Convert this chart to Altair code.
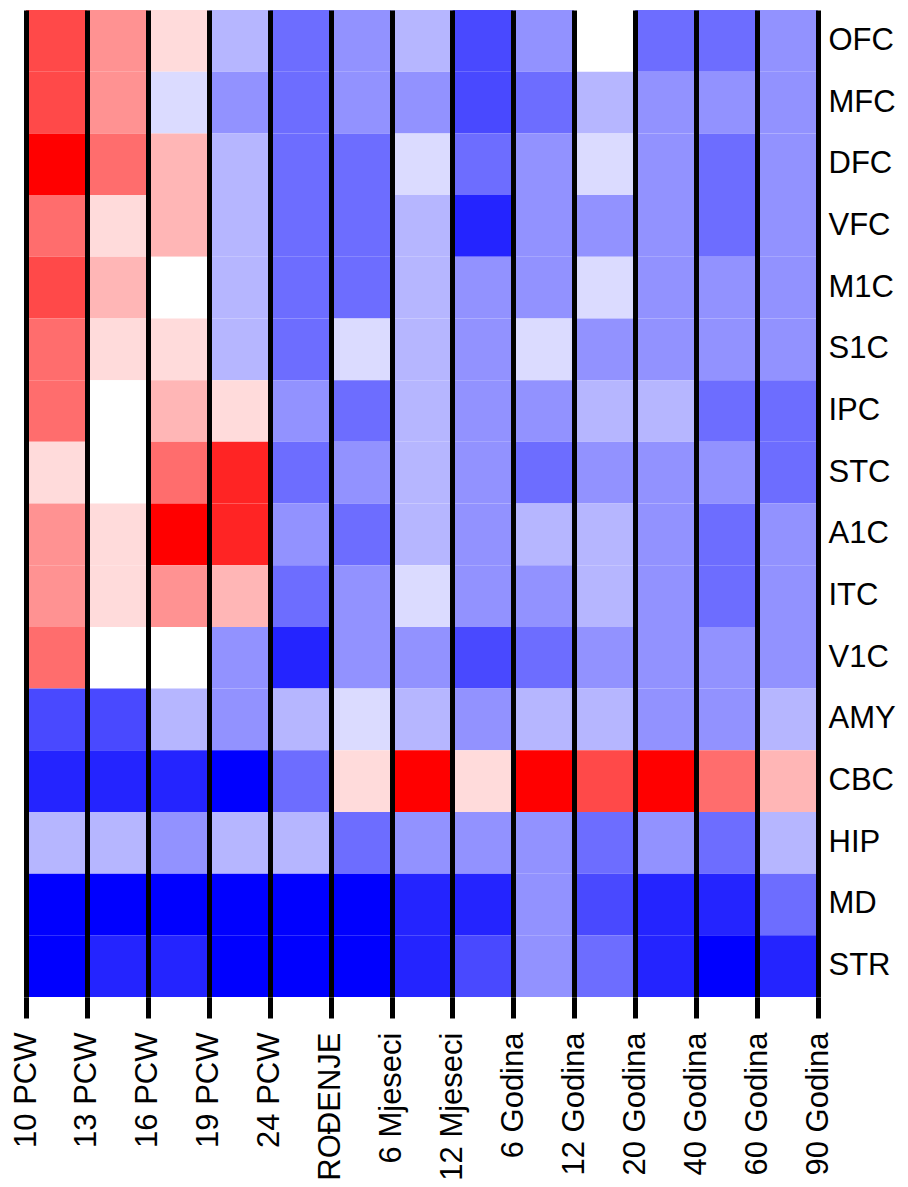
import json
import altair as alt
import pandas as pd

time_labels = ["10 PCW", "13 PCW", "16 PCW", "19 PCW", "24 PCW", "ROĐENJE",
               "6 Mjeseci", "12 Mjeseci", "6 Godina", "12 Godina", "20 Godina",
               "40 Godina", "60 Godina", "90 Godina"]

regions = ["OFC", "MFC", "DFC", "VFC", "M1C", "S1C", "IPC", "STC", "A1C",
           "ITC", "V1C", "AMY", "CBC", "HIP", "MD", "STR"]

OFC = [5, 3, 1, -2, -4, -3, -2, -5, -3, 0, -4, -4, -3]
MFC = [5, 3, -1, -3, -4, -3, -3, -5, -4, -2, -3, -3, -3]
DFC = [7, 4, 2, -2, -4, -4, -1, -4, -3, -1, -3, -4, -3]
VFC = [4, 1, 2, -2, -4, -4, -2, -6, -3, -3, -3, -4, -3]
M1C = [5, 2, 0, -2, -4, -4, -2, -3, -3, -1, -3, -3, -3]
S1C = [4, 1, 1, -2, -4, -1, -2, -3, -1, -3, -3, -3, -3]
IPC = [4, 0, 2, 1, -3, -4, -2, -3, -3, -2, -2, -4, -4]
STC = [1, 0, 4, 6, -4, -3, -2, -3, -4, -3, -3, -3, -4]
A1C = [3, 1, 7, 6, -3, -4, -2, -3, -2, -2, -3, -4, -3]
ITC = [3, 1, 3, 2, -4, -3, -1, -3, -3, -2, -3, -4, -3]
V1C = [4, 0, 0, -3, -6, -3, -3, -5, -4, -3, -3, -3, -3]
AMY = [-5, -5, -2, -3, -2, -1, -2, -3, -2, -2, -3, -3, -2]
CBC = [-6, -6, -6, -7, -4, 1, 7, 1, 7, 5, 7, 4, 2]
HIP = [-2, -2, -3, -2, -2, -4, -3, -3, -3, -4, -3, -4, -2]
MD = [-7, -7, -7, -7, -7, -7, -6, -6, -3, -5, -6, -6, -4]
STR = [-7, -6, -6, -7, -7, -7, -6, -5, -3, -4, -6, -7, -6]

matrix = [OFC, MFC, DFC, VFC, M1C, S1C, IPC, STC, A1C, ITC, V1C, AMY, CBC, HIP, MD, STR]

rows = []
for r, vals in zip(regions, matrix):
    for i, v in enumerate(vals):
        rows.append({"region": r, "start": i, "end": i + 1, "value": v})
df = pd.DataFrame(rows)

label_expr = json.dumps(time_labels) + "[datum.value]"
FONT = "Liberation Sans"

chart = alt.Chart(df).mark_rect(stroke=None).encode(
    x=alt.X("start:Q",
            scale=alt.Scale(domain=[0, len(time_labels) - 1], nice=False, zero=False),
            axis=alt.Axis(values=list(range(len(time_labels))), labelExpr=label_expr,
                          title=None, domain=False, grid=True, gridColor="black",
                          gridWidth=5, gridOpacity=1, tickColor="black", tickWidth=5,
                          tickSize=21, labelAngle=-90, labelAlign="right",
                          labelBaseline="middle", labelFontSize=31, labelFont=FONT,
                          labelColor="black", labelPadding=14, labelOverlap=False,
                          labelFlush=False, zindex=1)),
    x2="end:Q",
    y=alt.Y("region:N", sort=regions,
            scale=alt.Scale(paddingInner=0, paddingOuter=0),
            axis=alt.Axis(orient="right", title=None, ticks=False, domain=False,
                          labelFontSize=31, labelFont=FONT, labelColor="black",
                          labelPadding=10)),
    color=alt.Color("value:Q",
                    scale=alt.Scale(domain=[-7, 0, 7],
                                    range=["#0000ff", "#ffffff", "#ff0000"],
                                    interpolate="rgb"),
                    legend=None),
).properties(
    width=792, height=987,
    padding={"left": 2, "top": 2, "right": 0, "bottom": 0},
).configure_view(stroke=None)

chart.save("out.html", embed_options={"renderer": "svg", "actions": False})
